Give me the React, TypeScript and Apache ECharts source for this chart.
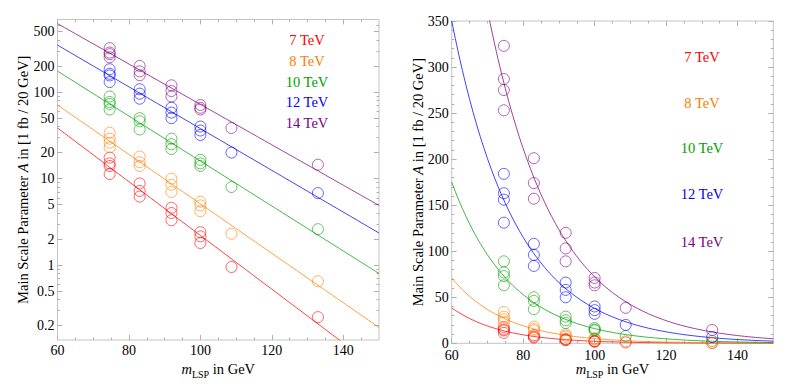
import React, { useEffect, useRef } from "react";
import * as echarts from "echarts";

// ---------- data ----------
const energies = ["7 TeV", "8 TeV", "10 TeV", "12 TeV", "14 TeV"];
const colors = ["#ff0000", "#ff8000", "#00a000", "#0000ff", "#800080"];
const masses = [74.6, 83.0, 91.9, 100.0, 108.7, 132.9];
const a7 = [[17.5, 15, 14, 11.3], [8.8, 7.2, 6.2], [4.6, 4.0, 3.3], [2.4, 2.15, 1.8], [0.95], [0.25]];
const a8 = [[34, 29, 26, 23], [18, 15.5, 14], [10, 8.5, 7], [5.4, 4.9, 4.2], [2.3], [0.65]];
const a10 = [[89, 77, 73, 63], [50, 46, 37], [29, 25, 22], [16.5, 15, 14], [8], [2.6]];
const a12 = [[184, 163, 156, 131], [108, 96, 84], [66, 58, 50], [40, 36, 32], [20], [6.8]];
const a14 = [[323, 287, 275, 253], [201, 174, 157], [120, 103, 89], [71, 66, 63], [38.5], [14.5]];
const seriesValues = [a7, a8, a10, a12, a14];
// exponential fit lines: value at m = 60 GeV and at m = 150 GeV
const fitAt60 = [38.5, 71, 175, 350, 620];
const fitAt150 = [0.0615, 0.19, 0.8, 2.35, 4.9];
const fitRange = [60, 150];

const xTicks = [60, 80, 100, 120, 140];
const xMinorTicks = [65, 70, 75, 85, 90, 95, 105, 110, 115, 125, 130, 135, 145];
const logTicks = [0.2, 0.5, 1, 2, 5, 10, 20, 50, 100, 200, 500];
const logMinorTicks = [0.3, 0.4, 0.6, 0.7, 0.8, 0.9, 3, 4, 6, 7, 8, 9, 30, 40, 60, 70, 80, 90, 300, 400, 600];
const linTicks = [0, 50, 100, 150, 200, 250, 300, 350];
const linMinorTicks = [10, 20, 30, 40, 60, 70, 80, 90, 110, 120, 130, 140, 160, 170, 180, 190, 210, 220, 230, 240, 260, 270, 280, 290, 310, 320, 330, 340];

// ---------- helpers ----------
const FONT = "Liberation Serif";
const FRAME = "#c4c4c4";
const TICK = "#b0b0b0";

const fitValue = (i: number, m: number) =>
  fitAt60[i] * Math.pow(fitAt150[i] / fitAt60[i], (m - fitRange[0]) / (fitRange[1] - fitRange[0]));
const curveMasses: number[] = [];
for (let m = fitRange[0]; m <= fitRange[1]; m += 1) curveMasses.push(m);

const yTitle = "Main Scale Parameter {i|A} in [1 fb / 20 GeV]";
const xTitle = "{i|m}{s|LSP} in GeV";

const titleStyle = {
  color: "#000",
  fontSize: 14.5,
  fontFamily: FONT,
  lineHeight: 20,
  rich: {
    i: { fontStyle: "italic", fontSize: 14.5, fontFamily: FONT, color: "#000", lineHeight: 20 },
    s: { fontSize: 10, fontFamily: FONT, color: "#000", verticalAlign: "bottom", lineHeight: 10 },
  },
};

function tick(values: number[], length: number) {
  return { show: true, inside: true, length, customValues: values, lineStyle: { color: TICK, width: 1 } };
}

function makeXAxes(gridIndex: number, nameGap: number, labelMargin: number) {
  const base = {
    type: "value",
    gridIndex,
    min: fitRange[0],
    max: fitRange[1],
    splitLine: { show: false },
    axisLine: { show: false, onZero: false },
  };
  return [
    {
      ...base,
      position: "bottom",
      name: xTitle,
      nameLocation: "middle",
      nameGap,
      nameMoveOverlap: false,
      nameTextStyle: titleStyle,
      axisTick: tick(xTicks, 5),
      axisLabel: { show: true, customValues: xTicks, margin: labelMargin, lineHeight: 10, color: "#000", fontSize: 14, fontFamily: FONT },
    },
    { ...base, position: "bottom", axisTick: tick(xMinorTicks, 2.5), axisLabel: { show: false } },
    { ...base, position: "top", axisTick: tick(xTicks, 5), axisLabel: { show: false } },
    { ...base, position: "top", axisTick: tick(xMinorTicks, 2.5), axisLabel: { show: false } },
  ];
}

function makeYAxes(gridIndex: number, min: number, max: number, major: number[], minor: number[], fmt: (v: number) => string, nameGap: number) {
  const base = {
    type: "value",
    gridIndex,
    min,
    max,
    splitLine: { show: false },
    axisLine: { show: false, onZero: false },
  };
  return [
    {
      ...base,
      position: "left",
      name: yTitle,
      nameLocation: "middle",
      nameGap,
      nameMoveOverlap: false,
      nameTextStyle: titleStyle,
      axisTick: tick(major, 5),
      axisLabel: { show: true, customValues: major, margin: 3, lineHeight: 10, color: "#000", fontSize: 14, fontFamily: FONT, formatter: fmt },
    },
    { ...base, position: "left", axisTick: tick(minor, 2.5), axisLabel: { show: false } },
    { ...base, position: "right", axisTick: tick(major, 5), axisLabel: { show: false } },
    { ...base, position: "right", axisTick: tick(minor, 2.5), axisLabel: { show: false } },
  ];
}

const logFmt = (v: number) => {
  const t = logTicks.find((x) => Math.abs(Math.log10(x) - v) < 1e-6);
  return t === undefined ? "" : String(t);
};
const linFmt = (v: number) => String(Math.round(v));

function buildSeries(panel: number) {
  const tf = panel === 0 ? (v: number) => Math.log10(v) : (v: number) => v;
  const axisIndex = panel === 0 ? 0 : 4;
  const out: any[] = [];
  seriesValues.forEach((vals, i) => {
    out.push({
      type: "line",
      name: energies[i],
      xAxisIndex: axisIndex,
      yAxisIndex: axisIndex,
      showSymbol: false,
      clip: true,
      silent: true,
      data: curveMasses.map((m) => [m, tf(fitValue(i, m))]),
      lineStyle: { color: colors[i], width: 1, opacity: 0.75 },
      z: 2,
    });
    const pts: number[][] = [];
    masses.forEach((m, j) => vals[j].forEach((v) => pts.push([m, tf(v)])));
    out.push({
      type: "scatter",
      name: energies[i],
      xAxisIndex: axisIndex,
      yAxisIndex: axisIndex,
      symbol: "circle",
      symbolSize: 11,
      clip: true,
      data: pts,
      itemStyle: { color: "transparent", borderColor: colors[i], borderWidth: 1, opacity: 0.6 },
      z: 3,
    });
  });
  return out;
}

const legendLeft = { x: 307, y: [40, 61, 81.7, 102.3, 123.3] };
const legendRight = { x: 702, y: [56.7, 102.7, 148.3, 194, 241.7] };

function legendTexts(pos: { x: number; y: number[] }) {
  return energies.map((e, i) => ({
    type: "text",
    x: pos.x,
    y: pos.y[i],
    silent: true,
    style: {
      text: e,
      fill: colors[i],
      fontSize: 14.5,
      fontFamily: FONT,
      align: "center",
      verticalAlign: "middle",
    },
  }));
}

const option: any = {
  animation: false,
  backgroundColor: "#ffffff",
  textStyle: { fontFamily: FONT },
  grid: [
    { left: 57.5, top: 19.5, width: 321.5, height: 320.5, show: true, borderColor: FRAME, borderWidth: 1, backgroundColor: "transparent" },
    { left: 451.7, top: 21, width: 321.6, height: 322.3, show: true, borderColor: FRAME, borderWidth: 1, backgroundColor: "transparent" },
  ],
  xAxis: [...makeXAxes(0, 19, 5), ...makeXAxes(1, 16, 7.5)],
  yAxis: [
    ...makeYAxes(0, Math.log10(0.136), Math.log10(692), logTicks.map((t) => Math.log10(t)), logMinorTicks.map((t) => Math.log10(t)), logFmt, 25),
    ...makeYAxes(1, 0, 350, linTicks, linMinorTicks, linFmt, 23.5),
  ],
  series: [...buildSeries(0), ...buildSeries(1)],
  graphic: [...legendTexts(legendLeft), ...legendTexts(legendRight)],
};

export default function App() {
  const ref = useRef<HTMLDivElement>(null);
  useEffect(() => {
    const chart = echarts.init(ref.current!, undefined, { renderer: "svg" });
    chart.setOption(option);
    return () => chart.dispose();
  }, []);
  return (
    <div
      ref={ref}
      style={{ position: "fixed", left: 0, top: 0, width: 789, height: 392, background: "#fff" }}
    />
  );
}
